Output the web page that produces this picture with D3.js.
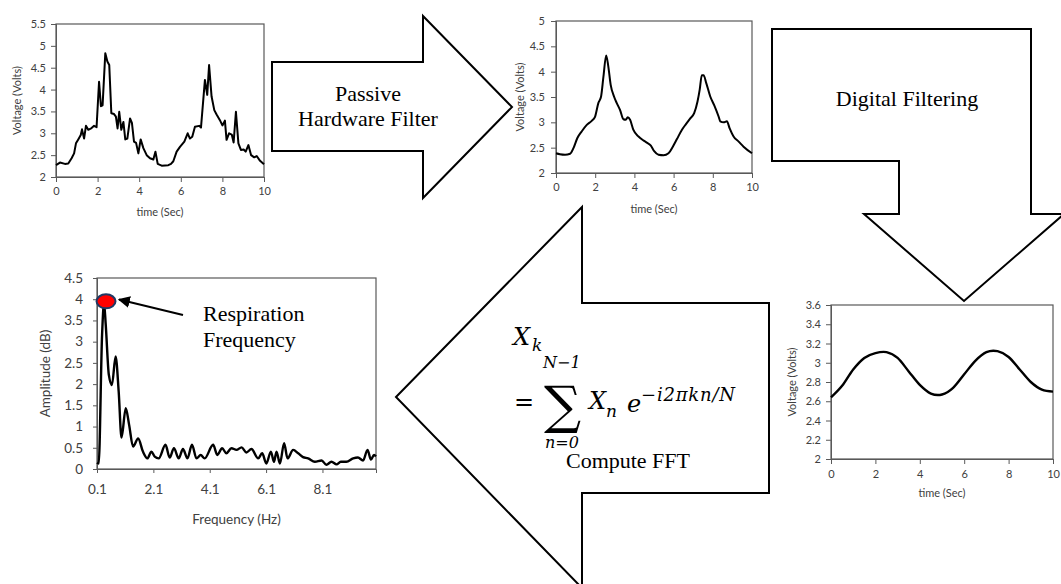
<!DOCTYPE html>
<html>
<head>
<meta charset="utf-8">
<script src="https://cdn.jsdelivr.net/npm/d3@7"></script>
<style>
  body { margin: 0; background: #fff; }
  svg { display: block; }
  .tick text { font-family: Lato, "Open Sans", sans-serif; fill: #404040; }
  .serif { font-family: "Liberation Serif", serif; fill: #000; }
  .math { font-family: "DejaVu Serif", serif; font-style: italic; fill: #000; }
</style>
</head>
<body>
<svg width="1061" height="584"></svg>
<script>
let WIDTH  = 1061,
    HEIGHT = 584;

// raw sensor signal
let rawTime = [0, 0.19, 0.43, 0.59, 0.75, 0.87, 0.96, 1.07, 1.19, 1.25, 1.35, 1.44, 1.55, 1.71, 1.83, 1.95,
               2.07, 2.16, 2.24, 2.37, 2.47, 2.56, 2.66, 2.79, 2.88, 2.96, 3.04, 3.14, 3.24, 3.33, 3.43,
               3.56, 3.65, 3.75, 3.85, 3.96, 4.07, 4.2, 4.36, 4.52, 4.68, 4.78, 4.89, 5.08, 5.4, 5.53,
               5.64, 5.8, 5.96, 6.17, 6.33, 6.44, 6.55, 6.68, 6.88, 6.97, 7.16, 7.27, 7.36, 7.48, 7.61,
               7.72, 7.88, 8.0, 8.12, 8.2, 8.32, 8.45, 8.54, 8.65, 8.77, 8.89, 9.02, 9.12, 9.25, 9.38,
               9.53, 9.65, 9.81, 10];
let rawVolt = [2.27, 2.33, 2.30, 2.31, 2.43, 2.54, 2.77, 2.86, 2.96, 3.09, 2.88, 3.17, 3.08, 3.12, 3.17, 3.14,
               4.18, 3.62, 3.64, 4.83, 4.64, 4.56, 3.46, 3.44, 3.38, 3.11, 3.49, 3.08, 3.26, 2.86, 2.88,
               3.34, 3.24, 2.81, 2.78, 2.54, 2.86, 2.66, 2.50, 2.43, 2.40, 2.58, 2.30, 2.26, 2.27, 2.30,
               2.36, 2.58, 2.69, 2.81, 3.0, 2.88, 2.92, 3.15, 3.17, 3.13, 4.22, 3.88, 4.56, 3.84, 3.53,
               3.43, 3.30, 3.18, 3.29, 2.85, 3.0, 2.97, 2.79, 3.49, 2.77, 2.62, 2.63, 2.58, 2.73, 2.50,
               2.45, 2.48, 2.37, 2.29];

// after passive hardware filter
let hwTime = [0, 0.2, 0.46, 0.72, 0.89, 1.09, 1.31, 1.57, 1.82, 1.99, 2.16, 2.3, 2.42, 2.56, 2.67, 2.79,
              2.96, 3.1, 3.27, 3.44, 3.56, 3.66, 3.78, 3.95, 4.21, 4.43, 4.63, 4.84, 5.01, 5.23, 5.49,
              5.74, 5.96, 6.17, 6.42, 6.64, 6.85, 7.05, 7.22, 7.33, 7.44, 7.53, 7.67, 7.87, 8.07, 8.3,
              8.38, 8.55, 8.72, 8.86, 9.06, 9.32, 9.57, 10];
let hwVolt = [2.39, 2.37, 2.36, 2.38, 2.49, 2.69, 2.82, 2.95, 3.03, 3.11, 3.38, 3.51, 3.90, 4.32, 4.10, 3.74,
              3.51, 3.38, 3.24, 3.06, 3.05, 3.10, 3.05, 2.85, 2.72, 2.65, 2.60, 2.54, 2.43, 2.36, 2.35,
              2.39, 2.52, 2.67, 2.85, 2.97, 3.08, 3.18, 3.41, 3.64, 3.93, 3.93, 3.77, 3.51, 3.34, 3.11,
              3.02, 3.0, 3.02, 2.88, 2.72, 2.62, 2.52, 2.39];

// after digital filtering
let dfTime = [0, 0.5, 1, 1.5, 2, 2.5, 3, 3.5, 4, 4.5, 5, 5.5, 6, 6.5, 7, 7.5, 8, 8.5, 9, 9.5, 10];
let dfVolt = [2.64, 2.76, 2.93, 3.05, 3.10, 3.11, 3.05, 2.91, 2.77, 2.68, 2.67, 2.74, 2.88, 3.02, 3.11, 3.12,
              3.06, 2.93, 2.80, 2.72, 2.70];

// FFT spectrum
let fftFreq = [0.1, 0.16, 0.28, 0.35, 0.41, 0.52, 0.63, 0.76, 0.87, 0.97, 1.12, 1.24, 1.38, 1.56, 1.73, 1.89,
               2.03, 2.15, 2.29, 2.53, 2.68, 2.83, 3.0, 3.15, 3.31, 3.47, 3.63, 3.78, 3.92, 4.22, 4.37,
               4.54, 4.69, 4.87, 5.05, 5.23, 5.4, 5.58, 5.82, 5.96, 6.11, 6.27, 6.38, 6.47, 6.59, 6.74,
               6.86, 7.06, 7.24, 7.41, 7.59, 7.83, 8.07, 8.24, 8.42, 8.6, 8.75, 8.95, 9.19, 9.36, 9.54,
               9.7, 9.82, 9.93, 10];
let fftAmp  = [0.15, 0.13, 3.16, 3.91, 3.40, 2.22, 1.98, 2.65, 1.82, 0.74, 1.43, 1.04, 0.53, 0.72, 0.41, 0.25,
               0.41, 0.29, 0.25, 0.57, 0.27, 0.49, 0.25, 0.47, 0.25, 0.57, 0.25, 0.33, 0.25, 0.57, 0.33,
               0.49, 0.37, 0.49, 0.45, 0.51, 0.39, 0.47, 0.25, 0.37, 0.13, 0.41, 0.17, 0.41, 0.13, 0.61,
               0.25, 0.45, 0.37, 0.28, 0.25, 0.17, 0.20, 0.10, 0.17, 0.11, 0.17, 0.17, 0.25, 0.27, 0.20,
               0.45, 0.22, 0.33, 0.30];

let timeTicks    = [0, 2, 4, 6, 8, 10];
let rawVoltTicks = [2, 2.5, 3, 3.5, 4, 4.5, 5, 5.5];
let hwVoltTicks  = [2, 2.5, 3, 3.5, 4, 4.5, 5];
let dfVoltTicks  = [2, 2.2, 2.4, 2.6, 2.8, 3, 3.2, 3.4, 3.6];
let freqTicks    = [0.1, 2.1, 4.1, 6.1, 8.1];
let ampTicks     = [0, 0.5, 1, 1.5, 2, 2.5, 3, 3.5, 4, 4.5];

let svg = d3.select("svg");

// block arrows (diagram shapes)
let shapes = [
    [[272, 62], [423, 62], [423, 16], [512, 107], [423, 198], [423, 151], [272, 151]],
    [[772, 29], [1031, 29], [1031, 214], [1064, 214], [964, 301], [864, 214], [899, 214], [899, 161], [772, 161]],
    [[396, 397], [582, 207], [582, 303], [769, 303], [769, 493], [582, 493], [582, 588]]
];
svg.selectAll("polygon.shape")
   .data(shapes)
   .enter()
   .append("polygon")
   .attr("points", d => d.map(p => p.join(",")).join(" "))
   .attr("fill", "#fff")
   .attr("stroke", "#000")
   .attr("stroke-width", 2);

function chart(c) {
    let x = d3.scaleLinear().domain(c.xDomain).range([c.left, c.right]);
    let y = d3.scaleLinear().domain(c.yDomain).range([c.bottom, c.top]);
    let g = svg.append("g");

    g.append("rect")
     .attr("x", c.left).attr("y", c.top)
     .attr("width", c.right - c.left).attr("height", c.bottom - c.top)
     .attr("fill", "#fff").attr("stroke", "#595959").attr("stroke-width", 1.2);

    let ya = g.append("g")
              .attr("transform", "translate(" + c.left + ",0)")
              .call(d3.axisLeft(y).tickValues(c.yTicks).tickSize(c.tick).tickPadding(c.ypad).tickFormat(d => d));
    let xa = g.append("g")
              .attr("transform", "translate(0," + c.bottom + ")")
              .call(d3.axisBottom(x).tickValues(c.xTicks).tickSize(c.tick).tickPadding(c.xpad).tickFormat(d => d));
    [ya, xa].forEach(a => {
        a.selectAll("text").attr("font-size", c.font);
        a.selectAll("path, line").attr("stroke", "#595959");
    });

    let line = d3.line()
                 .x((d, i) => x(c.xs[i]))
                 .y(d => y(d))
                 .curve(c.curve);
    g.append("path")
     .attr("d", line(c.ys))
     .attr("fill", "none")
     .attr("stroke", "#000")
     .attr("stroke-width", c.width)
     .attr("stroke-linejoin", "round");

    g.append("text")
     .attr("x", (c.left + c.right) / 2).attr("y", c.xTitleY)
     .attr("text-anchor", "middle")
     .attr("font-family", "Lato, sans-serif").attr("font-size", c.titleFont).attr("fill", "#404040")
     .text(c.xTitle);
    g.append("text")
     .attr("transform", "translate(" + c.yTitleX + "," + (c.top + c.bottom) / 2 + ") rotate(-90)")
     .attr("text-anchor", "middle")
     .attr("font-family", "Lato, sans-serif").attr("font-size", c.titleFont).attr("fill", "#404040")
     .text(c.yTitle);
    return {x: x, y: y};
}

chart({left: 56, right: 264, top: 24, bottom: 177, xDomain: [0, 10], yDomain: [2, 5.5],
       xTicks: timeTicks, yTicks: rawVoltTicks, xs: rawTime, ys: rawVolt, curve: d3.curveLinear,
       tick: 5, ypad: 5, xpad: 5, font: 11, titleFont: 11, width: 2,
       xTitle: "time (Sec)", xTitleY: 216, yTitle: "Voltage (Volts)", yTitleX: 21});

chart({left: 556, right: 752, top: 21, bottom: 173, xDomain: [0, 10], yDomain: [2, 5],
       xTicks: timeTicks, yTicks: hwVoltTicks, xs: hwTime, ys: hwVolt, curve: d3.curveMonotoneX,
       tick: 5, ypad: 6, xpad: 5, font: 11, titleFont: 11, width: 2,
       xTitle: "time (Sec)", xTitleY: 213, yTitle: "Voltage (Volts)", yTitleX: 524});

chart({left: 831, right: 1053, top: 305, bottom: 459, xDomain: [0, 10], yDomain: [2, 3.6],
       xTicks: timeTicks, yTicks: dfVoltTicks, xs: dfTime, ys: dfVolt, curve: d3.curveCardinal,
       tick: 5, ypad: 5, xpad: 6, font: 11, titleFont: 11, width: 2.4,
       xTitle: "time (Sec)", xTitleY: 497, yTitle: "Voltage (Volts)", yTitleX: 796});

let f = chart({left: 97, right: 376, top: 278, bottom: 469, xDomain: [0.1, 10], yDomain: [0, 4.5],
       xTicks: freqTicks, yTicks: ampTicks, xs: fftFreq, ys: fftAmp, curve: d3.curveMonotoneX,
       tick: 4, ypad: 10, xpad: 11, font: 13.5, titleFont: 13.5, width: 2.4,
       xTitle: "Frequency (Hz)", xTitleY: 524, yTitle: "Amplitude (dB)", yTitleX: 50});

// respiration peak marker
svg.append("defs").append("marker")
   .attr("id", "head").attr("viewBox", "0 0 10 10").attr("refX", 9).attr("refY", 5)
   .attr("markerWidth", 6).attr("markerHeight", 6).attr("orient", "auto")
   .append("path").attr("d", "M0,0 L10,5 L0,10 z").attr("fill", "#000");

svg.append("ellipse")
   .attr("cx", f.x(0.42)).attr("cy", f.y(3.95))
   .attr("rx", 9.5).attr("ry", 7)
   .attr("fill", "#ff0000").attr("stroke", "#1f3864").attr("stroke-width", 2);
svg.append("line")
   .attr("x1", 183).attr("y1", 315).attr("x2", 119).attr("y2", 299.5)
   .attr("stroke", "#000").attr("stroke-width", 2)
   .attr("marker-end", "url(#head)");

let labels = [
    {t: "Passive", x: 368, y: 101, a: "middle"},
    {t: "Hardware Filter", x: 368, y: 126, a: "middle"},
    {t: "Digital Filtering", x: 907, y: 106, a: "middle"},
    {t: "Respiration", x: 203, y: 321, a: "start"},
    {t: "Frequency", x: 203, y: 347, a: "start"},
    {t: "Compute FFT", x: 628, y: 468, a: "middle"}
];
svg.selectAll("text.lbl")
   .data(labels)
   .enter()
   .append("text")
   .attr("class", "serif lbl")
   .attr("x", d => d.x).attr("y", d => d.y)
   .attr("text-anchor", d => d.a)
   .attr("font-size", 22)
   .text(d => d.t);

// DFT formula
let fx = svg.append("g");
fx.append("text").attr("class", "math").attr("x", 513).attr("y", 345).attr("font-size", 24).text("X");
fx.append("text").attr("class", "math").attr("x", 532).attr("y", 351).attr("font-size", 17).text("k");
fx.append("text").attr("class", "math").attr("x", 543).attr("y", 368).attr("font-size", 16).text("N\u22121");
fx.append("text").attr("class", "math").attr("x", 514).attr("y", 410).attr("font-size", 24).attr("font-style", "normal").text("=");
fx.append("text").attr("class", "math").attr("x", 544).attr("y", 423).attr("font-size", 52).attr("font-style", "normal").text("\u2211");
fx.append("text").attr("class", "math").attr("x", 589).attr("y", 409).attr("font-size", 24).text("X");
fx.append("text").attr("class", "math").attr("x", 606).attr("y", 417).attr("font-size", 17).text("n");
fx.append("text").attr("class", "math").attr("x", 627).attr("y", 412).attr("font-size", 24).text("e");
fx.append("text").attr("class", "math").attr("x", 641).attr("y", 401).attr("font-size", 18).attr("letter-spacing", 0.8).text("\u2212i2\u03c0kn/N");
fx.append("text").attr("class", "math").attr("x", 545).attr("y", 448).attr("font-size", 16).text("n=0");
</script>
</body>
</html>
